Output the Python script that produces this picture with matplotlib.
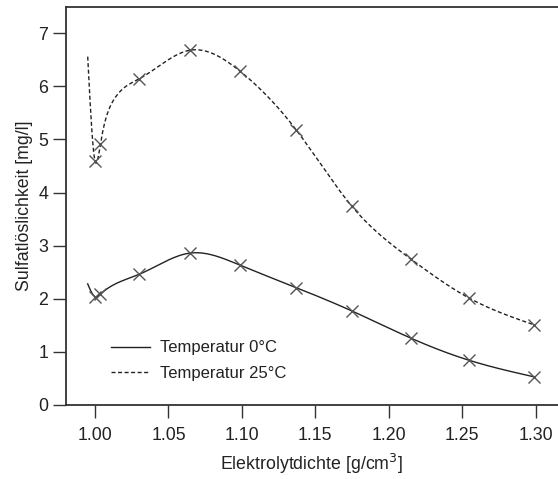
import numpy as np
import matplotlib
matplotlib.use("Agg")
import matplotlib.pyplot as plt

plt.rcParams['font.family'] = ['Liberation Sans', 'DejaVu Sans']

# measured points (markers)
dichte = [1.000, 1.0037, 1.030, 1.0645, 1.099, 1.137, 1.175, 1.215, 1.255, 1.299]
temp0 = [2.04, 2.09, 2.46, 2.86, 2.63, 2.21, 1.77, 1.26, 0.84, 0.53]
temp25 = [4.59, 4.92, 6.14, 6.68, 6.28, 5.18, 3.74, 2.75, 2.01, 1.51]
# fitted-curve knots (curve start and bend of the 25 °C fit)
start_x = 0.995
start0 = 2.28
start25 = 6.56
bend25_x = [1.0128, 1.0196]
bend25_y = [5.75, 5.97]

labels = ["Temperatur 0°C", "Temperatur 25°C"]
xticks = [1.00, 1.05, 1.10, 1.15, 1.20, 1.25, 1.30]
yticks = [0, 1, 2, 3, 4, 5, 6, 7]


def natural_spline(x, y, xs):
    order = np.argsort(x)
    x = np.asarray(x, float)[order]
    y = np.asarray(y, float)[order]
    n = len(x)
    h = np.diff(x)
    A = np.zeros((n, n))
    b = np.zeros(n)
    A[0, 0] = 1
    A[-1, -1] = 1
    for i in range(1, n - 1):
        A[i, i - 1] = h[i - 1]
        A[i, i] = 2 * (h[i - 1] + h[i])
        A[i, i + 1] = h[i]
        b[i] = 6 * ((y[i + 1] - y[i]) / h[i] - (y[i] - y[i - 1]) / h[i - 1])
    M = np.linalg.solve(A, b)
    idx = np.clip(np.searchsorted(x, xs) - 1, 0, n - 2)
    x0, x1 = x[idx], x[idx + 1]
    hh = x1 - x0
    t0 = x1 - xs
    t1 = xs - x0
    return (M[idx] * t0 ** 3 / (6 * hh) + M[idx + 1] * t1 ** 3 / (6 * hh)
            + (y[idx] / hh - M[idx] * hh / 6) * t0
            + (y[idx + 1] / hh - M[idx + 1] * hh / 6) * t1)


fig = plt.figure(figsize=(5.58, 4.79), dpi=100)
ax = fig.add_axes([0.1177, 0.1545, 0.8823, 0.8315])

xs = np.linspace(start_x, dichte[-1], 900)
c0 = natural_spline([start_x] + dichte, [start0] + temp0, xs)
c25 = natural_spline([start_x] + dichte + bend25_x, [start25] + temp25 + bend25_y, xs)

dash = (0, (2.9, 1.8))
ax.plot(xs, c0, color='#222222', lw=1.0, label=labels[0])
ax.plot(xs, c25, color='#222222', lw=1.0, linestyle=dash, label=labels[1])
ax.plot(dichte, temp0, linestyle='none', marker='x', ms=8, mew=1.0, color='#555555')
ax.plot(dichte, temp25, linestyle='none', marker='x', ms=8, mew=1.0, color='#555555')

ax.set_xlim(0.980, 1.3153)
ax.set_ylim(0, 7.5)
ax.set_xticks(xticks)
ax.set_xticklabels([f"{v:.2f}" for v in xticks])
ax.set_yticks(yticks)
ax.tick_params(axis='both', direction='out', length=9.5, width=1.0, color='#333333',
               labelsize=12.8, labelcolor='#222222')
ax.tick_params(axis='x', pad=6)
ax.tick_params(axis='y', pad=3)
for s in ['left', 'bottom', 'top']:
    ax.spines[s].set_linewidth(1.3)
    ax.spines[s].set_color('#333333')
ax.spines['right'].set_visible(False)

ax.set_xlabel("Elektrolytdichte [g/cm$^3$]", fontsize=12.8, color='#222222', labelpad=6)
ax.set_ylabel("Sulfatlöslichkeit [mg/l]", fontsize=12.8, color='#222222', labelpad=4)

leg = ax.legend(loc='lower left', bbox_to_anchor=(0.062, 0.022), frameon=False,
                fontsize=12.0, handlelength=2.3, handletextpad=0.6, labelspacing=0.65)
for t in leg.get_texts():
    t.set_color('#222222')

fig.savefig("out.png", dpi=100)
